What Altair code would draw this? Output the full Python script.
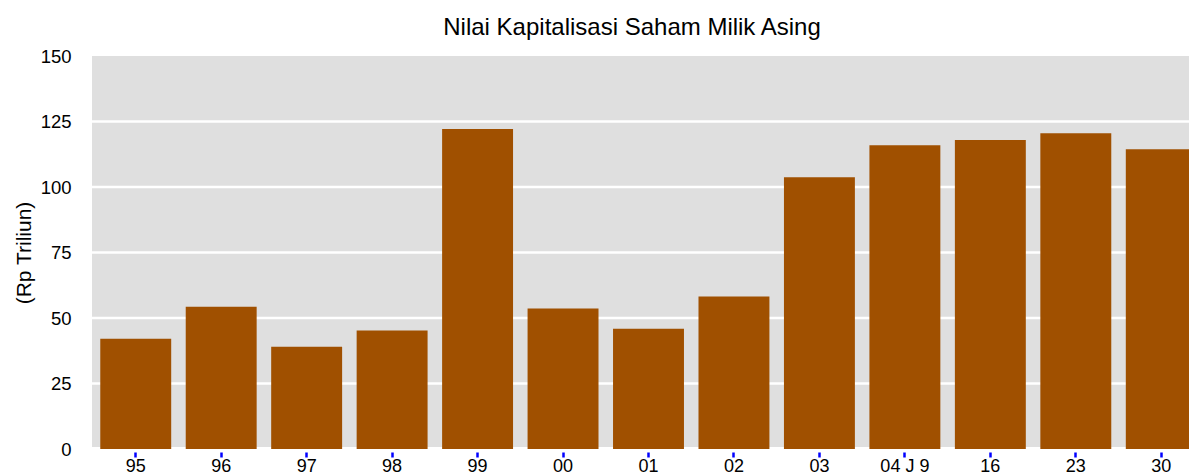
import altair as alt
import pandas as pd

categories = ["95", "96", "97", "98", "99", "00", "01", "02", "03", "04 J 9", "16", "23", "30"]
values = [42.1, 54.3, 39.0, 45.2, 122.1, 53.6, 45.9, 58.2, 103.7, 115.9, 117.9, 120.5, 114.4]
y_ticks = [0, 25, 50, 75, 100, 125, 150]
grid_vals = [25, 50, 75, 100, 125]

df = pd.DataFrame({"cat": categories, "val": values})
grid_df = pd.DataFrame({"g": grid_vals})

font = "Liberation Sans"
W = 1096
RANGE_W = 1111
H = 393

y_scale = alt.Scale(domain=[0, 150], nice=False)

background = alt.Chart(df).mark_rect(fill="#dfdfdf").encode(
    x=alt.value(-1), x2=alt.value(RANGE_W), y=alt.value(0), y2=alt.value(H - 2)
)

grid = alt.Chart(grid_df).mark_rule(color="#ffffff", strokeWidth=2.5).encode(
    y=alt.Y("g:Q", scale=y_scale),
    x=alt.value(-1), x2=alt.value(RANGE_W),
)

bars = alt.Chart(df).mark_bar(color="#a05000", y2Offset=3).encode(
    x=alt.X("cat:N", sort=categories, title=None,
            scale=alt.Scale(paddingInner=0.17, paddingOuter=0.085, range=[0, RANGE_W]),
            axis=alt.Axis(labelAngle=0, domain=False, ticks=True, tickColor="#0000ff",
                          tickSize=5, tickWidth=2.5, offset=3,
                          labelFont=font, labelFontSize=18, labelColor="#000000",
                          labelPadding=0, grid=False)),
    y=alt.Y("val:Q", title="(Rp Triliun)", scale=y_scale,
            axis=alt.Axis(values=y_ticks, domain=False, ticks=False,
                          labelFont=font, labelFontSize=18.5, labelColor="#000000",
                          labelPadding=22, grid=False,
                          titleFont=font, titleFontSize=21, titleFontWeight="normal",
                          titleColor="#000000", titlePadding=6)),
)

chart = alt.layer(background, grid, bars).properties(
    width=W,
    height=H,
    title=alt.TitleParams("Nilai Kapitalisasi Saham Milik Asing", font=font, fontSize=24,
                          fontWeight="normal", color="#000000", anchor="middle", dx=-9, offset=7),
    autosize=alt.AutoSizeParams(type="none"),
    padding={"left": 85, "top": 48, "right": 0, "bottom": 27},
).configure_view(
    fill=None, stroke=None
)

chart.save("out.html", embed_options={"renderer": "svg", "actions": False})
